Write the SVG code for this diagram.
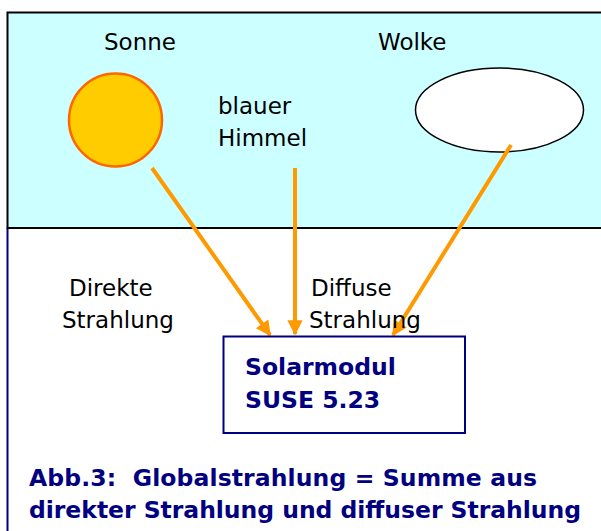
<svg xmlns="http://www.w3.org/2000/svg" width="601" height="531" viewBox="0 0 601 531">
<style>
.lbl{font-family:"DejaVu Sans",Verdana,sans-serif;font-size:23px;fill:#000}
.bold{font-family:"DejaVu Sans",Verdana,sans-serif;font-size:23.5px;font-weight:bold;fill:#000080}
.ray{stroke:#FF9900;stroke-width:4;fill:none;marker-end:url(#ah)}
</style>
<defs>
<marker id="ah" viewBox="0 0 10 10" refX="9" refY="5" markerWidth="4.2" markerHeight="3.8" orient="auto" markerUnits="strokeWidth">
<path d="M0,0 L10,5 L0,10 Z" fill="#FF9900"/>
</marker>
</defs>
<rect x="0" y="0" width="601" height="531" fill="#fff"/>
<g id="sky">
<rect x="7.5" y="12.5" width="600" height="215.5" fill="#CCFFFF" stroke="#000" stroke-width="2"/>
<line x1="7.5" y1="228" x2="7.5" y2="531" stroke="#000080" stroke-width="2"/>
</g>
<g id="sonne">
<circle cx="115.5" cy="120" r="46.5" fill="#FFCC00" stroke="#FF6600" stroke-width="2.5"/>
<text class="lbl" x="104" y="50">Sonne</text>
</g>
<g id="wolke">
<ellipse cx="499.5" cy="110" rx="84" ry="42" fill="#fff" stroke="#000" stroke-width="1.5"/>
<text class="lbl" x="378" y="50">Wolke</text>
</g>
<g id="himmel">
<text class="lbl" x="218" y="114">blauer</text>
<text class="lbl" x="218" y="146">Himmel</text>
</g>
<g id="connectors">
<line class="ray" x1="152" y1="168" x2="270" y2="335"/>
<line class="ray" x1="295" y1="168" x2="295" y2="334"/>
<line class="ray" x1="511" y1="145" x2="393" y2="335"/>
</g>
<g id="labels">
<text class="lbl" x="69" y="296">Direkte</text>
<text class="lbl" x="62" y="328">Strahlung</text>
<text class="lbl" x="311" y="296">Diffuse</text>
<text class="lbl" x="309" y="328">Strahlung</text>
</g>
<g id="solarmodul">
<rect x="223.5" y="336.5" width="241.5" height="96.5" fill="#fff" stroke="#000080" stroke-width="2"/>
<text class="bold" x="245" y="375">Solarmodul</text>
<text class="bold" x="245" y="408">SUSE 5.23</text>
</g>
<g id="caption">
<text class="bold" x="29" y="486" xml:space="preserve" textLength="508">Abb.3:  Globalstrahlung = Summe aus</text>
<text class="bold" x="29" y="518" textLength="552">direkter Strahlung und diffuser Strahlung</text>
</g>
</svg>
